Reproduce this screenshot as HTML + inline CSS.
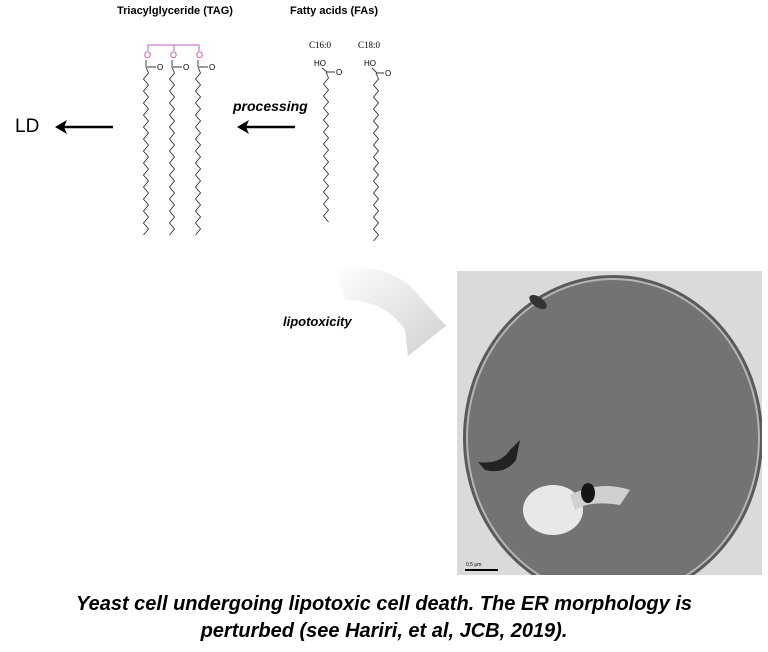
<!DOCTYPE html>
<html><head><meta charset="utf-8"><style>
body{margin:0;width:768px;height:652px;background:#fff;overflow:hidden;position:relative;font-family:"Liberation Sans",sans-serif}
.t{position:absolute;white-space:nowrap}
</style></head><body>
<svg width="768" height="652" style="position:absolute;left:0;top:0">
<defs>
<linearGradient id="ag" x1="0" y1="0" x2="1" y2="1"><stop offset="0" stop-color="#fff"/><stop offset="1" stop-color="#d0d0d0"/></linearGradient>
<clipPath id="cl"><rect x="457" y="271" width="305" height="304"/></clipPath>
</defs>
<path d="M335,268 Q380,262 408,285 L403,278 L446,326 L408,356 L405,330 Q385,300 345,300 Z" fill="url(#ag)"/>
<line x1="113" y1="127" x2="62" y2="127" stroke="#000" stroke-width="2.5"/>
<path d="M55,127 L67,120 L64,127 L67,134 Z" fill="#000"/>
<line x1="295" y1="127" x2="244" y2="127" stroke="#000" stroke-width="2.5"/>
<path d="M237,127 L249,120 L246,127 L249,134 Z" fill="#000"/>
<path d="M148,51 V45 H199 V51 M174,45 V51" stroke="#c060c0" fill="none" stroke-width="1"/>
<g fill="#c040c0" font-size="9"><text x="144" y="58">O</text><text x="170" y="58">O</text><text x="196" y="58">O</text></g>
<g font-size="8" fill="#000"><text x="157" y="70">O</text><text x="183" y="70">O</text><text x="209" y="70">O</text>
<text x="314" y="66">HO</text><text x="364" y="66">HO</text><text x="336" y="75">O</text><text x="385" y="76">O</text></g>
<g font-family="Liberation Serif" font-size="9" fill="#000"><text x="309" y="48">C16:0</text><text x="358" y="48">C18:0</text></g>
<g id="chains" stroke="#333" fill="none" stroke-width="0.9"></g>
<rect x="457" y="271" width="305" height="304" fill="#dadada"/>
<g clip-path="url(#cl)">
<ellipse cx="613" cy="438" rx="150" ry="163" fill="#5a5a5a"/>
<ellipse cx="613" cy="438" rx="147" ry="160" fill="#b5b5b5"/>
<ellipse cx="613" cy="438" rx="145" ry="158" fill="#737373"/>
<ellipse cx="553" cy="510" rx="30" ry="25" fill="#e8e8e8"/>
<path d="M570,495 Q600,480 630,490 L620,505 Q590,500 575,510Z" fill="#d0d0d0"/>
<ellipse cx="588" cy="493" rx="7" ry="10" fill="#151515"/>
<path d="M478,462 Q500,465 510,450 L520,440 L516,460 Q505,475 485,470Z" fill="#222"/>
<ellipse cx="538" cy="302" rx="10" ry="5" transform="rotate(35 538 302)" fill="#333"/>
</g>
<line x1="465" y1="570" x2="498" y2="570" stroke="#000" stroke-width="2"/>
<text x="466" y="566" font-size="5" fill="#000">0.5 μm</text>
</svg>
<div class="t" style="left:117px;top:5px;font-size:11px;font-weight:bold">Triacylglyceride (TAG)</div>
<div class="t" style="left:290px;top:5px;font-size:11px;font-weight:bold">Fatty acids (FAs)</div>
<div class="t" style="left:15px;top:116px;font-size:19px">LD</div>
<div class="t" style="left:233px;top:98px;font-size:14px;font-weight:bold;font-style:italic">processing</div>
<div class="t" style="left:283px;top:314px;font-size:13px;font-weight:bold;font-style:italic">lipotoxicity</div>
<div class="t" style="left:0;width:768px;top:591px;text-align:center;font-size:20px;font-weight:bold;font-style:italic;line-height:27px">Yeast cell undergoing lipotoxic cell death. The ER morphology is<br>perturbed (see Hariri, et al, JCB, 2019).</div>
<script>
var g=document.getElementById('chains'),ns='http://www.w3.org/2000/svg';
function chain(x,y0,y1,startDx){var p=[],y=y0,s=startDx;p.push(x+','+y);while(y<y1){y+=6;s=-s;p.push((x+s)+','+y);}var e=document.createElementNS(ns,'polyline');e.setAttribute('points',p.join(' '));g.appendChild(e);}
[[146,60],[172,60],[198,60]].forEach(function(c){
 var l=document.createElementNS(ns,'path');l.setAttribute('d','M'+c[0]+',60 V67 M'+(c[0]+1)+',67 H'+(c[0]+10));g.appendChild(l);
 chain(c[0],67,232,-2.5);});
var l=document.createElementNS(ns,'path');l.setAttribute('d','M322,68 L327,72 H335 M372,68 L377,73 H384');g.appendChild(l);
chain(326,72,218,-2.5);chain(376,73,240,-2.5);
</script>
</body></html>
